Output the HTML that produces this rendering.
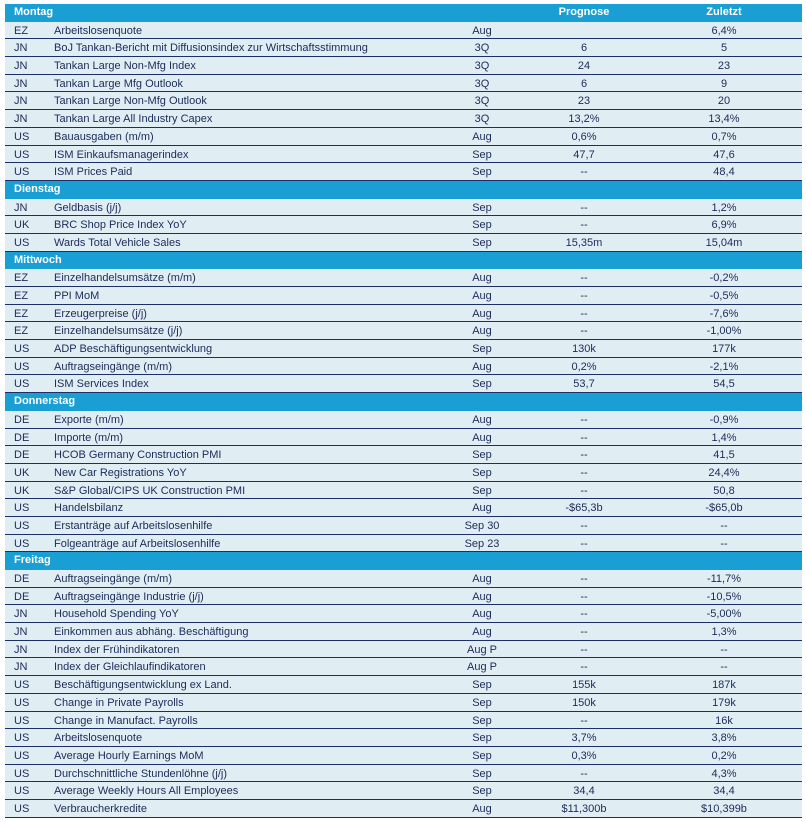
<!DOCTYPE html><html><head><meta charset="utf-8"><style>
body{margin:0;width:806px;height:822px;background:#fff;font-family:"Liberation Sans",sans-serif;font-size:11px;color:#1c2a5a}
#t{position:absolute;left:5px;top:4px;width:797px}
.r{height:17.7px;box-sizing:border-box;position:relative;background:#e0eef3;border-bottom:1.3px solid #1c2f66;line-height:19px;white-space:nowrap}
.h{background:#1a9fd4;color:#fff;font-weight:bold;border-bottom:none;line-height:17px}
.r span{position:absolute;top:0}
.c{left:9px}.n{left:49px}.p{left:437px;width:80px;text-align:center}.f{left:539px;width:80px;text-align:center}.z{left:679px;width:80px;text-align:center}
</style></head><body><div id="t">
<div class="r h"><span class="c">Montag</span><span class="f">Prognose</span><span class="z">Zuletzt</span></div>
<div class="r"><span class="c">EZ</span><span class="n">Arbeitslosenquote</span><span class="p">Aug</span><span class="f"></span><span class="z">6,4%</span></div>
<div class="r"><span class="c">JN</span><span class="n">BoJ Tankan-Bericht mit Diffusionsindex zur Wirtschaftsstimmung</span><span class="p">3Q</span><span class="f">6</span><span class="z">5</span></div>
<div class="r"><span class="c">JN</span><span class="n">Tankan Large Non-Mfg Index</span><span class="p">3Q</span><span class="f">24</span><span class="z">23</span></div>
<div class="r"><span class="c">JN</span><span class="n">Tankan Large Mfg Outlook</span><span class="p">3Q</span><span class="f">6</span><span class="z">9</span></div>
<div class="r"><span class="c">JN</span><span class="n">Tankan Large Non-Mfg Outlook</span><span class="p">3Q</span><span class="f">23</span><span class="z">20</span></div>
<div class="r"><span class="c">JN</span><span class="n">Tankan Large All Industry Capex</span><span class="p">3Q</span><span class="f">13,2%</span><span class="z">13,4%</span></div>
<div class="r"><span class="c">US</span><span class="n">Bauausgaben (m/m)</span><span class="p">Aug</span><span class="f">0,6%</span><span class="z">0,7%</span></div>
<div class="r"><span class="c">US</span><span class="n">ISM Einkaufsmanagerindex</span><span class="p">Sep</span><span class="f">47,7</span><span class="z">47,6</span></div>
<div class="r"><span class="c">US</span><span class="n">ISM Prices Paid</span><span class="p">Sep</span><span class="f">--</span><span class="z">48,4</span></div>
<div class="r h"><span class="c">Dienstag</span></div>
<div class="r"><span class="c">JN</span><span class="n">Geldbasis (j/j)</span><span class="p">Sep</span><span class="f">--</span><span class="z">1,2%</span></div>
<div class="r"><span class="c">UK</span><span class="n">BRC Shop Price Index YoY</span><span class="p">Sep</span><span class="f">--</span><span class="z">6,9%</span></div>
<div class="r"><span class="c">US</span><span class="n">Wards Total Vehicle Sales</span><span class="p">Sep</span><span class="f">15,35m</span><span class="z">15,04m</span></div>
<div class="r h"><span class="c">Mittwoch</span></div>
<div class="r"><span class="c">EZ</span><span class="n">Einzelhandelsumsätze (m/m)</span><span class="p">Aug</span><span class="f">--</span><span class="z">-0,2%</span></div>
<div class="r"><span class="c">EZ</span><span class="n">PPI MoM</span><span class="p">Aug</span><span class="f">--</span><span class="z">-0,5%</span></div>
<div class="r"><span class="c">EZ</span><span class="n">Erzeugerpreise (j/j)</span><span class="p">Aug</span><span class="f">--</span><span class="z">-7,6%</span></div>
<div class="r"><span class="c">EZ</span><span class="n">Einzelhandelsumsätze (j/j)</span><span class="p">Aug</span><span class="f">--</span><span class="z">-1,00%</span></div>
<div class="r"><span class="c">US</span><span class="n">ADP Beschäftigungsentwicklung</span><span class="p">Sep</span><span class="f">130k</span><span class="z">177k</span></div>
<div class="r"><span class="c">US</span><span class="n">Auftragseingänge (m/m)</span><span class="p">Aug</span><span class="f">0,2%</span><span class="z">-2,1%</span></div>
<div class="r"><span class="c">US</span><span class="n">ISM Services Index</span><span class="p">Sep</span><span class="f">53,7</span><span class="z">54,5</span></div>
<div class="r h"><span class="c">Donnerstag</span></div>
<div class="r"><span class="c">DE</span><span class="n">Exporte (m/m)</span><span class="p">Aug</span><span class="f">--</span><span class="z">-0,9%</span></div>
<div class="r"><span class="c">DE</span><span class="n">Importe (m/m)</span><span class="p">Aug</span><span class="f">--</span><span class="z">1,4%</span></div>
<div class="r"><span class="c">DE</span><span class="n">HCOB Germany Construction PMI</span><span class="p">Sep</span><span class="f">--</span><span class="z">41,5</span></div>
<div class="r"><span class="c">UK</span><span class="n">New Car Registrations YoY</span><span class="p">Sep</span><span class="f">--</span><span class="z">24,4%</span></div>
<div class="r"><span class="c">UK</span><span class="n">S&amp;P Global/CIPS UK Construction PMI</span><span class="p">Sep</span><span class="f">--</span><span class="z">50,8</span></div>
<div class="r"><span class="c">US</span><span class="n">Handelsbilanz</span><span class="p">Aug</span><span class="f">-$65,3b</span><span class="z">-$65,0b</span></div>
<div class="r"><span class="c">US</span><span class="n">Erstanträge auf Arbeitslosenhilfe</span><span class="p">Sep 30</span><span class="f">--</span><span class="z">--</span></div>
<div class="r"><span class="c">US</span><span class="n">Folgeanträge auf Arbeitslosenhilfe</span><span class="p">Sep 23</span><span class="f">--</span><span class="z">--</span></div>
<div class="r h"><span class="c">Freitag</span></div>
<div class="r"><span class="c">DE</span><span class="n">Auftragseingänge (m/m)</span><span class="p">Aug</span><span class="f">--</span><span class="z">-11,7%</span></div>
<div class="r"><span class="c">DE</span><span class="n">Auftragseingänge Industrie (j/j)</span><span class="p">Aug</span><span class="f">--</span><span class="z">-10,5%</span></div>
<div class="r"><span class="c">JN</span><span class="n">Household Spending YoY</span><span class="p">Aug</span><span class="f">--</span><span class="z">-5,00%</span></div>
<div class="r"><span class="c">JN</span><span class="n">Einkommen aus abhäng. Beschäftigung</span><span class="p">Aug</span><span class="f">--</span><span class="z">1,3%</span></div>
<div class="r"><span class="c">JN</span><span class="n">Index der Frühindikatoren</span><span class="p">Aug P</span><span class="f">--</span><span class="z">--</span></div>
<div class="r"><span class="c">JN</span><span class="n">Index der Gleichlaufindikatoren</span><span class="p">Aug P</span><span class="f">--</span><span class="z">--</span></div>
<div class="r"><span class="c">US</span><span class="n">Beschäftigungsentwicklung ex Land.</span><span class="p">Sep</span><span class="f">155k</span><span class="z">187k</span></div>
<div class="r"><span class="c">US</span><span class="n">Change in Private Payrolls</span><span class="p">Sep</span><span class="f">150k</span><span class="z">179k</span></div>
<div class="r"><span class="c">US</span><span class="n">Change in Manufact. Payrolls</span><span class="p">Sep</span><span class="f">--</span><span class="z">16k</span></div>
<div class="r"><span class="c">US</span><span class="n">Arbeitslosenquote</span><span class="p">Sep</span><span class="f">3,7%</span><span class="z">3,8%</span></div>
<div class="r"><span class="c">US</span><span class="n">Average Hourly Earnings MoM</span><span class="p">Sep</span><span class="f">0,3%</span><span class="z">0,2%</span></div>
<div class="r"><span class="c">US</span><span class="n">Durchschnittliche Stundenlöhne (j/j)</span><span class="p">Sep</span><span class="f">--</span><span class="z">4,3%</span></div>
<div class="r"><span class="c">US</span><span class="n">Average Weekly Hours All Employees</span><span class="p">Sep</span><span class="f">34,4</span><span class="z">34,4</span></div>
<div class="r"><span class="c">US</span><span class="n">Verbraucherkredite</span><span class="p">Aug</span><span class="f">$11,300b</span><span class="z">$10,399b</span></div>
</div></body></html>
